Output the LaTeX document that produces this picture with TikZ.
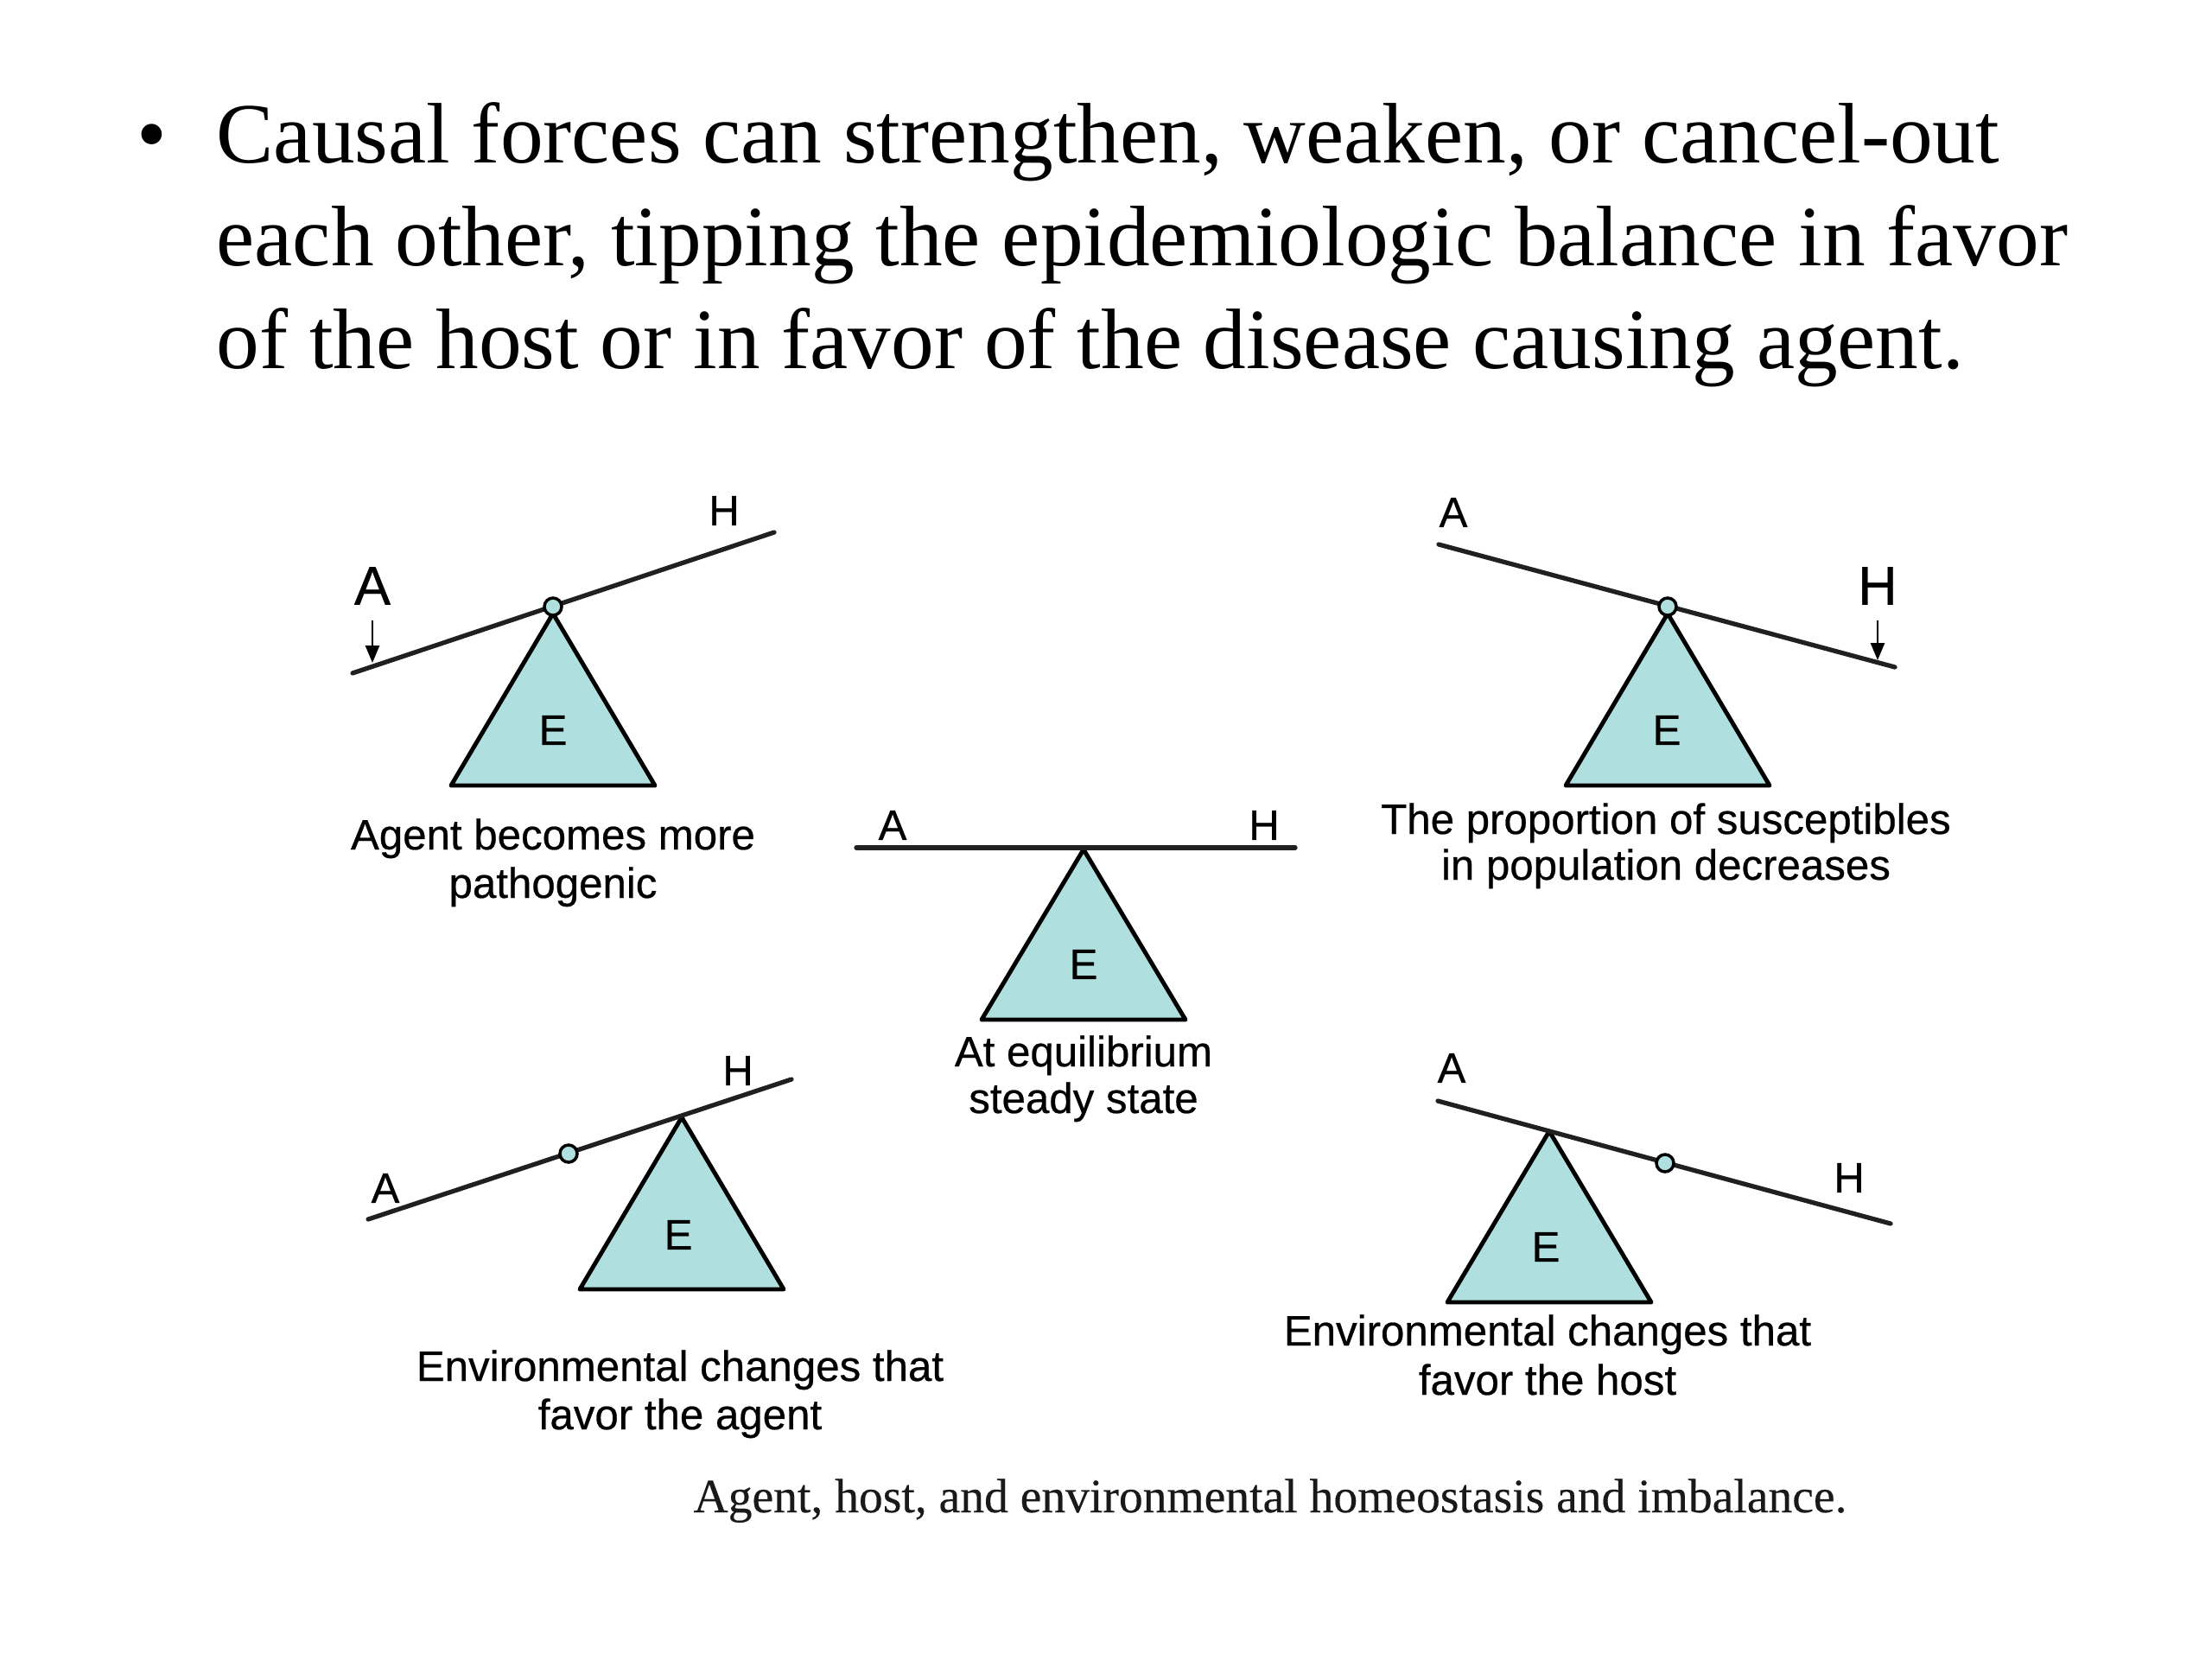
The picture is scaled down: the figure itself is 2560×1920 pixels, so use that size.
\documentclass[tikz,border=0pt]{standalone}
\usepackage{fontspec}
\setmainfont{Liberation Serif}
\newfontfamily\hsans[FakeBold=0.5]{Liberation Sans}
\newfontfamily\capserif[FakeBold=0.3]{Liberation Serif}
\usetikzlibrary{arrows.meta}
\definecolor{tealfill}{RGB}{176,223,224}
\definecolor{beamcol}{RGB}{32,32,32}
\begin{document}
\begin{tikzpicture}[x=0.01cm,y=-0.01cm,
  lbl/.style={font=\hsans\fontsize{14}{16}\selectfont, inner sep=0pt},
  biglbl/.style={font=\hsans\fontsize{18}{20}\selectfont, inner sep=0pt},
  capline/.style={font=\hsans\fontsize{14}{16}\selectfont, inner sep=0pt, anchor=base},
  bodyline/.style={font=\fontsize{28.25}{34}\selectfont, inner sep=0pt, anchor=base west},
  fulcrum/.style={fill=tealfill, draw=black, line width=1.4pt, line join=round},
  beam/.style={draw=beamcol, line width=1.5pt, line cap=round},
  pivot/.style={circle, fill=tealfill, draw=black, line width=1pt, minimum size=0.2cm, inner sep=0pt},
  push/.style={-{Triangle[length=0.2cm,width=0.16cm]}, line width=0.8pt, shorten <=0.17cm}
]
\path[use as bounding box, fill=white] (0,0) rectangle (2560,1920);

% bullet text
\node[bodyline] (bul) at (158,188) {•};
\node[bodyline] (t1) at (250,188) {Causal forces can strengthen, weaken, or cancel-out};
\node[bodyline] (t2) at (250,307) {each other, tipping the epidemiologic balance in favor};
\node[bodyline] (t3) at (250,426) {of the host or in favor of the disease causing agent.};

% ---- seesaw 1 (top left)
\path[fulcrum] (640,710) -- (758,909) -- (522,909) -- cycle;
\node[lbl] (e1) at (640,845) {E};
\coordinate (b1l) at (408,779);
\coordinate (b1r) at (896,616);
\draw[beam] (b1l) -- (b1r);
\node[pivot] (p1) at (640,702) {};
\node[biglbl] (a1) at (431,678) {A};
\node[lbl] (h1) at (838,591) {H};
\coordinate (ar1) at (431,767);
\draw[push] (a1.south) -- (ar1);
\node[capline] (c1a) at (640,983) {Agent becomes more};
\node[capline] (c1b) at (640,1039) {pathogenic};

% ---- seesaw 2 (top right)
\path[fulcrum] (1930,710) -- (2048,909) -- (1812,909) -- cycle;
\node[lbl] (e2) at (1929,845) {E};
\coordinate (b2l) at (1665,630);
\coordinate (b2r) at (2193,772);
\draw[beam] (b2l) -- (b2r);
\node[pivot] (p2) at (1930,702) {};
\node[lbl] (a2) at (1682,593) {A};
\node[biglbl] (h2) at (2173,678) {H};
\coordinate (ar2) at (2173,764);
\draw[push] (h2.south) -- (ar2);
\node[capline] (c2a) at (1928,965) {The proportion of susceptibles};
\node[capline] (c2b) at (1928,1018) {in population decreases};

% ---- seesaw 3 (centre, equilibrium)
\path[fulcrum] (1254,983) -- (1372,1180) -- (1136,1180) -- cycle;
\node[lbl] (e3) at (1254,1116) {E};
\coordinate (b3l) at (991,981);
\coordinate (b3r) at (1499,981);
\draw[beam] (b3l) -- (b3r);
\node[lbl] (a3) at (1033,955) {A};
\node[lbl] (h3) at (1463,955) {H};
\node[capline] (c3a) at (1254,1234) {At equilibrium};
\node[capline] (c3b) at (1254,1288) {steady state};

% ---- seesaw 4 (bottom left)
\path[fulcrum] (789,1293) -- (907,1492) -- (671,1492) -- cycle;
\node[lbl] (e4) at (785,1429) {E};
\coordinate (b4l) at (426,1411);
\coordinate (b4r) at (916,1249);
\draw[beam] (b4l) -- (b4r);
\node[pivot] (p4) at (658,1335) {};
\node[lbl] (a4) at (446,1375) {A};
\node[lbl] (h4) at (854,1239) {H};
\node[capline] (c4a) at (787,1598) {Environmental changes that};
\node[capline] (c4b) at (787,1654) {favor the agent};

% ---- seesaw 5 (bottom right)
\path[fulcrum] (1793,1309) -- (1911,1507) -- (1675,1507) -- cycle;
\node[lbl] (e5) at (1789,1443) {E};
\coordinate (b5l) at (1664,1274);
\coordinate (b5r) at (2188,1416);
\draw[beam] (b5l) -- (b5r);
\node[pivot] (p5) at (1927,1346) {};
\node[lbl] (a5) at (1680,1236) {A};
\node[lbl] (h5) at (2140,1363) {H};
\node[capline] (c5a) at (1791,1557) {Environmental changes that};
\node[capline] (c5b) at (1791,1614) {favor the host};

% figure caption
\node[font=\capserif\fontsize{15.8}{18}\selectfont, text=black!90, inner sep=0pt, anchor=base] (fig) at (1470,1750) {Agent, host, and environmental homeostasis and imbalance.};
\end{tikzpicture}
\end{document}
